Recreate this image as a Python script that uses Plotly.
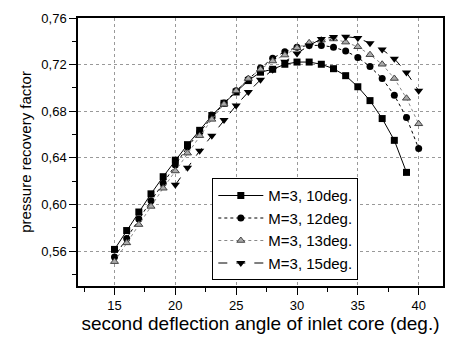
import plotly.graph_objects as go

x10 = list(range(15, 40))
y10 = [0.5614, 0.5776, 0.5935, 0.6091, 0.6238, 0.6380, 0.6513, 0.6636, 0.6763, 0.6868,
       0.6965, 0.7063, 0.7135, 0.7160, 0.7203, 0.7222, 0.7222, 0.7203, 0.7165, 0.7105,
       0.7010, 0.6891, 0.6737, 0.6550, 0.6275]

x12 = list(range(15, 41))
y12 = [0.5549, 0.5708, 0.5875, 0.6032, 0.6181, 0.6338, 0.6494, 0.6620, 0.6750, 0.6870,
       0.6975, 0.7075, 0.7170, 0.7255, 0.7310, 0.7350, 0.7365, 0.7365, 0.7350, 0.7316,
       0.7262, 0.7183, 0.7081, 0.6937, 0.6746, 0.6480]

x13 = list(range(15, 41))
y13 = [0.5509, 0.5670, 0.5827, 0.5983, 0.6139, 0.6287, 0.6440, 0.6590, 0.6730, 0.6860,
       0.6975, 0.7080, 0.7160, 0.7231, 0.7282, 0.7345, 0.7387, 0.7410, 0.7420, 0.7393,
       0.7353, 0.7285, 0.7203, 0.7081, 0.6911, 0.6692]

x15 = list(range(20, 41))
y15 = [0.6168, 0.6315, 0.6460, 0.6590, 0.6725, 0.6850, 0.6965, 0.7070, 0.7155, 0.7225,
       0.7295, 0.7365, 0.7420, 0.7437, 0.7440, 0.7428, 0.7384, 0.7330, 0.7251, 0.7132,
       0.6976]

names = ["M=3, 10deg.", "M=3, 12deg.", "M=3, 13deg.", "M=3, 15deg."]

FONT = "Liberation Sans, Arial"

fig = go.Figure()
fig.add_trace(go.Scatter(x=x10, y=y10, name=names[0], mode="lines+markers",
                         line=dict(color="black", width=1, dash="solid"),
                         marker=dict(symbol="square", size=7, color="black")))
fig.add_trace(go.Scatter(x=x12, y=y12, name=names[1], mode="lines+markers",
                         line=dict(color="black", width=1, dash="dot"),
                         marker=dict(symbol="circle", size=7, color="black")))
fig.add_trace(go.Scatter(x=x13, y=y13, name=names[2], mode="lines+markers",
                         line=dict(color="#888888", width=1, dash="dot"),
                         marker=dict(symbol="triangle-up", size=7, color="#aaaaaa",
                                     line=dict(color="#444444", width=1))))
fig.add_trace(go.Scatter(x=x15, y=y15, name=names[3], mode="lines+markers",
                         line=dict(color="black", width=1, dash="dash"),
                         marker=dict(symbol="triangle-down", size=8, color="black")))

axis_common = dict(showline=True, linecolor="black", linewidth=1.5, mirror=True,
                   ticks="outside", ticklen=7, tickcolor="black",
                   showgrid=True, gridcolor="#999999", griddash="dot", gridwidth=1,
                   zeroline=False,
                   tickfont=dict(family=FONT, size=13, color="black"))

fig.update_xaxes(range=[12, 42], tick0=15, dtick=5,
                 minor=dict(ticks="outside", ticklen=4, dtick=2.5, tick0=15, tickcolor="black", showgrid=False),
                 title=dict(text="second deflection angle of inlet core (deg.)",
                            font=dict(family=FONT, size=19, color="black"),
                            standoff=2),
                 **axis_common)
fig.update_yaxes(range=[0.53, 0.76], tick0=0.56, dtick=0.04, tickformat=".2f",
                 minor=dict(ticks="outside", ticklen=4, dtick=0.02, tick0=0.56, tickcolor="black", showgrid=False),
                 title=dict(text="pressure recovery factor",
                            font=dict(family=FONT, size=15, color="black"),
                            standoff=6),
                 **axis_common)

fig.update_layout(
    width=456, height=341,
    margin=dict(l=78, r=11, t=15, b=55),
    paper_bgcolor="white", plot_bgcolor="white",
    separators=",.",
    showlegend=True,
    legend=dict(x=0.368, y=0.402, xanchor="left", yanchor="top",
                bgcolor="white", bordercolor="black", borderwidth=1,
                font=dict(family=FONT, size=15, color="black"),
                itemwidth=45, tracegroupgap=0),
)

fig.write_html("out.html")
